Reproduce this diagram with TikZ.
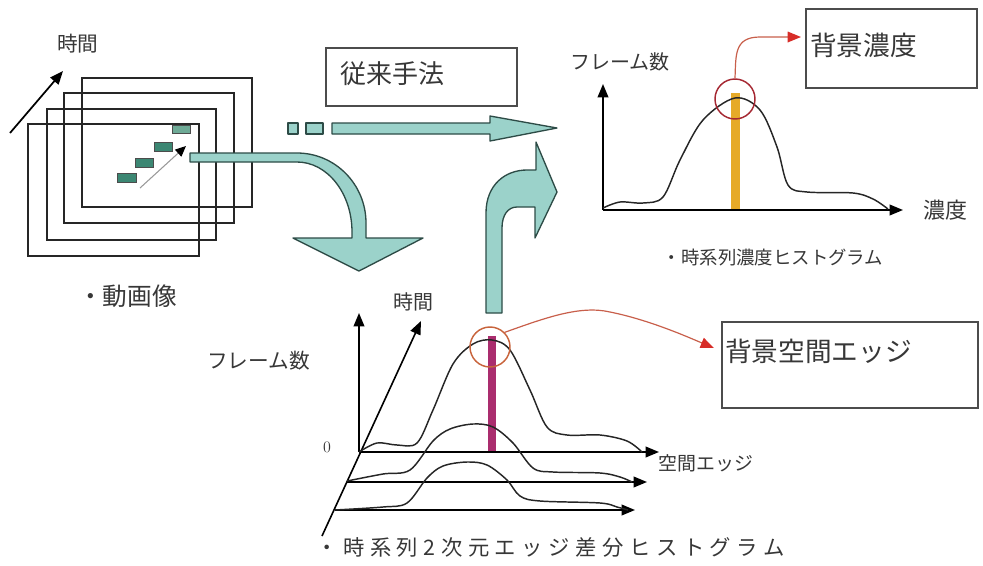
\documentclass[tikz,border=0pt]{standalone}
\usepackage{fontspec}
\newfontfamily\jp{Noto Sans CJK JP}
\newfontfamily\jpw{Noto Sans CJK JP}[LetterSpace=26]
\usetikzlibrary{arrows.meta,calc}
\definecolor{teal1}{RGB}{155,210,202}
\definecolor{tealedge}{RGB}{45,75,70}
\definecolor{boxgreen}{RGB}{60,135,115}
\definecolor{boxgreenl}{RGB}{110,170,150}
\definecolor{redline}{RGB}{200,95,75}
\definecolor{redhead}{RGB}{215,45,40}
\definecolor{circA}{RGB}{165,40,50}
\definecolor{circB}{RGB}{200,100,60}
\definecolor{barA}{RGB}{230,170,40}
\definecolor{barB}{RGB}{170,45,110}
\definecolor{txt}{RGB}{55,55,55}
\newcommand\fs[1]{\fontsize{#1}{#1}\selectfont}
\tikzset{
  lbl/.style={inner sep=0pt, text=txt, font=\jp},
  frame/.style={draw=black!85, line width=1.6pt},
  axis/.style={draw=black, line width=1.2pt, -{Triangle[length=10pt,width=8pt]}},
  hcurve/.style={draw=black!85, line width=1.1pt},
  fatarrow/.style={fill=teal1, draw=tealedge, line width=1pt, line join=round},
  redarrow/.style={draw=redline, line width=0.9pt, -{Triangle[length=10pt,width=8pt,fill=redhead,color=redhead]}},
  txtbox/.style={draw=black!70, line width=1.1pt, inner sep=0pt},
  gbox/.style={fill=boxgreen, draw=black!70, line width=0.6pt}
}
\begin{document}
\begin{tikzpicture}[x=0.75pt,y=-0.75pt]
\useasboundingbox (0,0) rectangle (983,565);

% ---------- left: video frames ----------
\node[lbl, anchor=west, font=\jp\fs{15.5pt}] (tlabel1) at (57,44) {時間};
\coordinate (ta1) at (10,133);
\coordinate (tb1) at (63,71);
\draw[axis, line width=1.3pt] (ta1) -- (tb1);
\draw[frame] (82,78) rectangle (252,207);
\draw[frame] (64,93) rectangle (234,223);
\draw[frame] (47,109) rectangle (216,240);
\draw[frame] (28,124) rectangle (199,256);
\node[gbox, minimum width=19*0.75pt, minimum height=9*0.75pt, inner sep=0pt] (g1) at (126.5,178) {};
\node[gbox, minimum width=18*0.75pt, minimum height=9*0.75pt, inner sep=0pt] (g2) at (144,162.5) {};
\node[gbox, minimum width=18*0.75pt, minimum height=9*0.75pt, inner sep=0pt] (g3) at (163,146.5) {};
\node[gbox, fill=boxgreenl, minimum width=18*0.75pt, minimum height=8*0.75pt, inner sep=0pt] (g4) at (181,129) {};
\coordinate (ma) at (140,188);
\coordinate (mb) at (186,146);
\draw[draw=black!40, line width=0.8pt, -{Triangle[length=8pt,width=7pt,fill=black,color=black]}] (ma) -- (mb);
\node[lbl, anchor=west, font=\jp\fs{18.5pt}] (vid) at (78,296) {・動画像};

% ---------- conventional method ----------
\node[txtbox, minimum width=191*0.75pt, minimum height=58*0.75pt] (conv) at (421.5,77) {};
\node[lbl, anchor=west, font=\jp\fs{19.5pt}] (convt) at (340,74) {従来手法};
\filldraw[fatarrow] (288,123) rectangle (298,134);
\filldraw[fatarrow] (306,123) rectangle (323,134);
\filldraw[fatarrow] (332,123) -- (490,123) -- (490,116) -- (557,128) -- (490,141) -- (490,134) -- (332,134) -- cycle;

% ---------- curved arrow down ----------
\filldraw[fatarrow] (190,153) -- (297,153)
  arc[start angle=270, end angle=360, x radius=69, y radius=70]
  -- (366,238) -- (423,238) -- (359,271) -- (293,238) -- (352,238) -- (352,232)
  arc[start angle=0, end angle=-90, x radius=55, y radius=70]
  -- (190,162) -- cycle;

% ---------- curved arrow up ----------
\filldraw[fatarrow] (486,313) -- (486,213) .. controls (486,185) and (505,170) .. (527,170)
  -- (536,170) -- (536,142) -- (557,192) -- (535,238) -- (535,207) -- (517,207)
  .. controls (508,207) and (502,215) .. (502,228) -- (502,313) -- cycle;

% ---------- top-right histogram ----------
\node[lbl, anchor=west, font=\jp\fs{15pt}] (yl1) at (570,62) {フレーム数};
\coordinate (o1) at (603,210);
\coordinate (y1) at (603,84);
\coordinate (x1) at (903,210);
\fill[barA] (731,93) rectangle (740,210);
\draw[axis] (o1) -- (y1);
\draw[axis] (o1) -- (x1);
\node[lbl, anchor=west, font=\jp\fs{16.5pt}] (xl1) at (923,210) {濃度};
\draw[hcurve] plot[smooth, tension=0.55] coordinates {(603,208) (620,202) (643,203) (663,197) (680,160) (703,120) (735,98) (760,110) (777,147) (788,185) (807,192) (853,193) (873,199) (888,209)};
\node[draw=circA, line width=1.1pt, circle, minimum size=40*0.75pt, inner sep=0pt] (c1) at (735,99) {};
\node[txtbox, minimum width=171*0.75pt, minimum height=79*0.75pt] (bg1) at (891.5,48.5) {};
\node[lbl, anchor=west, font=\jp\fs{20pt}] (bg1t) at (810,45) {背景濃度};
\coordinate (r1) at (801,37);
\draw[redarrow] (c1.north) .. controls (736,55) and (734,37) .. (760,37) -- (r1);
\node[lbl, font=\jp\fs{13.8pt}] (cap1) at (773,258) {・時系列濃度ヒストグラム};

% ---------- bottom histogram ----------
\node[lbl, anchor=west, font=\jp\fs{15pt}] (tlabel2) at (393,302) {時間};
\node[lbl, anchor=west, font=\jp\fs{15.5pt}] (yl2) at (207,361) {フレーム数};
\node[lbl, font=\fs{12pt}] (zero) at (327,447) {0};
\coordinate (o2) at (359,452);
\coordinate (y2) at (359,313);
\coordinate (d0) at (322,536);
\coordinate (d1) at (421,321);
\coordinate (o3) at (347,482);
\coordinate (o4) at (335,510);
\coordinate (x2) at (659,452);
\coordinate (x3) at (647,482);
\coordinate (x4) at (635,510);
\fill[barB] (488,336) rectangle (496,452);
\draw[axis] (o2) -- (y2);
\draw[axis] (d0) -- (d1);
\draw[axis] (o2) -- (x2);
\draw[axis] (o3) -- (x3);
\draw[axis] (o4) -- (x4);
\node[lbl, anchor=west, font=\jp\fs{14.2pt}] (xl2) at (658,463) {空間エッジ};
\draw[hcurve] plot[smooth, tension=0.55] coordinates {(359,452) (377,443) (397,445) (417,443) (433,410) (453,364) (473,344) (492,340) (510,350) (530,390) (547,427) (567,435) (600,435) (627,441) (642,452)};
\draw[hcurve] plot[smooth, tension=0.55] coordinates {(347,481) (383,474) (410,470) (433,441) (450,429) (473,424) (493,427) (513,443) (533,468) (553,472) (600,473) (620,477) (632,482)};
\draw[hcurve] plot[smooth, tension=0.55] coordinates {(335,510) (383,507) (407,503) (427,478) (443,466) (467,462) (487,465) (507,480) (520,496) (540,501) (600,503) (617,507) (628,510)};
\node[draw=circB, line width=1.1pt, circle, minimum size=40*0.75pt, inner sep=0pt] (c2) at (490,347) {};
\node[txtbox, minimum width=256*0.75pt, minimum height=86*0.75pt] (bg2) at (850,365) {};
\node[lbl, anchor=west, font=\jp\fs{20pt}] (bg2t) at (725,351) {背景空間エッジ};
\coordinate (r2) at (714,348);
\draw[redarrow] (c2.north east) .. controls (545,318) and (580,305) .. (610,312) .. controls (650,320) and (690,338) .. (r2);
\node[lbl, anchor=west, font=\jpw\fs{16pt}] (cap2) at (316,547) {・時系列2次元エッジ差分ヒストグラム};
\end{tikzpicture}
\end{document}
